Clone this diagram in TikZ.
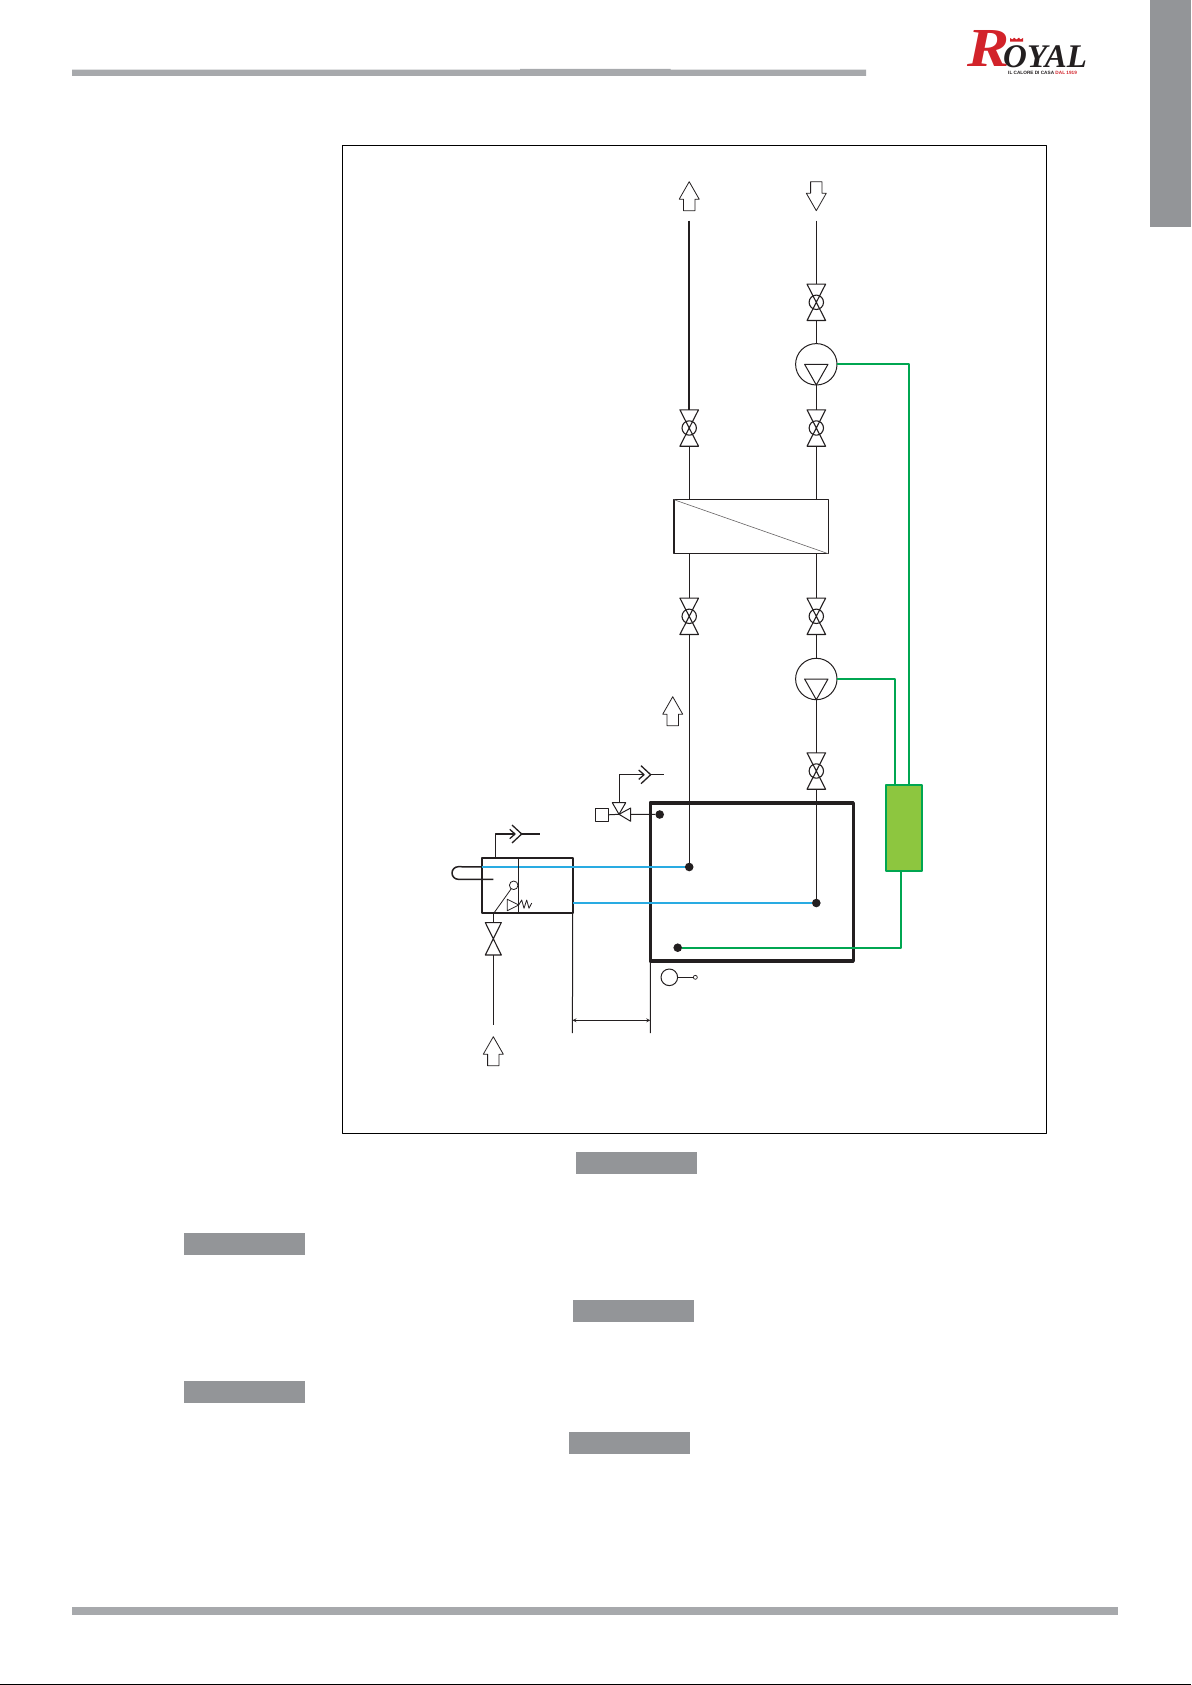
\documentclass[tikz,border=0pt]{standalone}
\usepackage{fontspec}
\newfontfamily\logofont{Liberation Serif}
\newfontfamily\tagfont{Liberation Sans}
\definecolor{barcol}{HTML}{A7A9AC}
\definecolor{tabcol}{HTML}{939598}
\definecolor{inkcol}{HTML}{231F20}
\definecolor{bluecol}{HTML}{29ABE2}
\definecolor{greencol}{HTML}{00A651}
\definecolor{limecol}{HTML}{8DC63F}
\definecolor{royalred}{HTML}{D2232A}
\tikzset{
	pipe/.style={draw=inkcol, line width=1pt},
	bluepipe/.style={draw=bluecol, line width=1.7pt},
	greenpipe/.style={draw=greencol, line width=1.7pt},
	valvebox/.style={inner sep=0, outer sep=0, minimum width=18.6pt, minimum height=36.4pt},
	pumpbox/.style={circle, draw=inkcol, line width=1pt, inner sep=0, outer sep=0, minimum size=41.4pt},
	greybox/.style={fill=tabcol, inner sep=0, outer sep=0, minimum width=121pt, minimum height=22pt},
	dot/.style={circle, fill=inkcol, inner sep=0, outer sep=0, minimum size=8.6pt},
	bigup/.pic={\draw[draw=inkcol, line width=.8pt, fill=white] (0,0)--(10,17.5)--(5.7,17.5)--(5.7,29)--(-5.7,29)--(-5.7,17.5)--(-10,17.5)--cycle;},
	outlet/.pic={\draw[draw=inkcol, line width=1.3pt] (-9.7,-9)--(0,0)--(-9.7,9) (-12,-4.7)--(-6.7,0)--(-12,4.7);}
}
\begin{document}
\begin{tikzpicture}[x=1pt, y=-1pt, line join=round, >=stealth]
	\useasboundingbox (0,0) rectangle (1191,1685);
	\path
	(689.2,220.7) coordinate (LT)
	(816.3,220.7) coordinate (RT)
	(909,784.7) coordinate (ctrlA)
	(895,784.7) coordinate (ctrlB)
	(901,871) coordinate (ctrlC)
	(650.7,774.7) coordinate (ventA)
	(521.7,834) coordinate (ventB)
	(619.3,774.7) coordinate (ventAc)
	(495.7,834) coordinate (ventBc)
	(663.7,774.7) coordinate (ventAe)
	(540,834) coordinate (ventBe)
	(619,814.3) coordinate (SV)
	(493.3,1025) coordinate (inlet)
	(572.4,1033) coordinate (dimA)
	(650.3,1033) coordinate (dimB)
	;
	% page furniture
	\fill[barcol] (72,69.7) rectangle (866,75.8) (520,69) rectangle (670.6,75.8);
	\fill[barcol] (72,1607) rectangle (1118,1615);
	\fill[tabcol] (1150,0) rectangle (1191,226.7);
	\fill[black] (0,1684) rectangle (1191,1685);
	\draw[draw=black, line width=.9pt] (342,145.3) rectangle (1046.7,1133);
	\foreach \n/\x/\y in {boxA/636.5/1163, boxB/244.5/1244, boxC/633.5/1311, boxD/244.5/1392, boxE/629.5/1443}
		\node[greybox] (\n) at (\x,\y) {};
	% logo
	\node[anchor=base west, inner sep=0, text=royalred, xscale=1.15, font=\logofont\bfseries\itshape\fontsize{55}{55}\selectfont] (logoR) at (967,66.7) {R};
	\node[anchor=base west, inner sep=0, text=inkcol, font=\logofont\bfseries\itshape\fontsize{33}{33}\selectfont] (logoT) at (1003,67.5) {OYAL};
	\node[anchor=base west, inner sep=0, text=inkcol, font=\tagfont\bfseries\fontsize{4.7}{4.7}\selectfont] (logoS) at (1008,75) {IL CALORE DI CASA \textcolor{royalred}{DAL 1919}};
	\fill[royalred] (1010,41.7)--(1010,38)--(1012.5,39.5)--(1014,37.7)--(1016.5,39.5)--(1019,37.7)--(1020.5,39.5)--(1023,38)--(1023,41.7)--cycle;
	% tanks
	\node[draw=inkcol, line width=3.6pt, inner sep=0, outer sep=0, minimum width=203pt, minimum height=158pt] (tank) at (751.8,881.7) {};
	\node[draw=inkcol, line width=1.6pt, inner sep=0, outer sep=0, minimum width=91pt, minimum height=55pt] (expbox) at (527.2,885.4) {};
	\node[draw=inkcol, line width=1.2pt, inner sep=0, outer sep=0, minimum width=154.3pt, minimum height=54pt] (hx) at (751.1,526.7) {};
	\draw[draw=inkcol!70, line width=.6pt] (hx.north west)--(hx.south east);
	\node[draw=greencol, fill=limecol, line width=1.7pt, inner sep=0, outer sep=0, minimum width=35.7pt, minimum height=86.3pt] (ctrl) at (903.8,827.8) {};
	% valves
	\foreach \n/\x/\y in {vA/689.2/428, vB/816.3/302.3, vC/816.3/428, vD/689.2/616.3, vE/816.3/616.3, vF/816.3/771}{
		\node[valvebox] (\n) at (\x,\y) {};
		\draw[pipe, line width=1.1pt] (\n.north west)--(\n.south east)--(\n.south west)--(\n.north east)--cycle;
		\draw[pipe, line width=1.1pt] (\n.center) circle (7.2);
	}
	\node[valvebox, minimum width=16pt, minimum height=32.4pt] (vG) at (493.3,938.8) {};
	\draw[pipe, line width=1.1pt] (vG.north west)--(vG.south east)--(vG.south west)--(vG.north east)--cycle;
	% pumps
	\foreach \n/\x/\y in {pumpA/816.3/364.3, pumpB/816.3/679}{
		\node[pumpbox] (\n) at (\x,\y) {};
		\draw[pipe] ([xshift=-11.7pt]\n.center)--([xshift=11.7pt]\n.center)--(\n.south)--cycle;
	}
	% pipes
	\draw[pipe, line width=1.5pt] (LT)--(vA.north);
	\draw[pipe] (RT)--(vB.north) (vB.south)--(pumpA.north) (pumpA.south)--(vC.north);
	\draw[pipe] (vA.south)--(vA.south|-hx.north) (vC.south)--(vC.south|-hx.north);
	\draw[pipe] (vD.north)--(vD.north|-hx.south) (vE.north)--(vE.north|-hx.south);
	\draw[pipe] (vE.south)--(pumpB.north) (pumpB.south)--(vF.north);
	\node[dot] (dotA) at (689.2,867) {};
	\node[dot] (dotB) at (816.3,903) {};
	\node[dot] (dotC) at (677.7,947.7) {};
	\node[dot] (dotD) at (659.7,814.5) {};
	\draw[pipe, line width=1.2pt] (vD.south)--(dotA) (vF.south)--(dotB);
	\draw[bluepipe] (expbox.east|-dotB)--(dotB);
	\draw[greenpipe] (pumpA.east)-|(ctrlA);
	\draw[greenpipe] (pumpB.east)-|(ctrlB);
	\draw[greenpipe] (dotC)-|(ctrlC);
	% safety valve and outlets
	\node[draw=inkcol, line width=1pt, inner sep=0, outer sep=0, minimum size=13pt] (sqv) at (602,814.8) {};
	\draw[pipe] (sqv.east)--(SV)--(dotD);
	\draw[pipe, fill=white] (SV)--(612.3,802.7)--(625.7,802.7)--cycle;
	\draw[pipe, fill=white] (SV)--(630.7,808)--(630.7,821.3)--cycle;
	\draw[pipe, line width=1.3pt] (619.3,802.7)--(ventAc)--(644,774.7);
	\draw[pipe, line width=1.3pt] (ventA)--(ventAe);
	\path (ventA) pic {outlet};
	\draw[pipe, line width=1.5pt] (ventBc|-expbox.north)--(ventBc)--(515,834);
	\draw[pipe, line width=1.5pt] (ventB)--(ventBe);
	\path (ventB) pic {outlet};
	% expansion vessel details
	\draw[pipe, line width=1.5pt] (expbox.west|-dotA)--(458.3,866.7) arc (270:90:6.3)--(493.3,879.3);
	\draw[bluepipe] (expbox.west|-dotA)--(dotA);
	\draw[pipe] (518.7,857.9)--(518.7,912.9);
	\node[draw=inkcol, circle, line width=.8pt, inner sep=0, outer sep=0, minimum size=8.6pt] (floatb) at (513.7,885.3) {};
	\draw[pipe, line width=.8pt] (494,912.9)--(floatb);
	\draw[pipe, line width=.8pt] (507.3,899.3)--(518.7,905)--(507.3,910.7)--cycle;
	\draw[pipe, line width=.8pt] (518.7,905)--(521.7,900)--(524,908.3)--(526.7,900)--(529,908.3)--(531.7,903);
	\draw[pipe] (vG.north)--(vG.north|-expbox.south) (vG.south)--(inlet);
	% dimension and sensor
	\draw[pipe] (expbox.south east)--(dimA) (tank.south west)--(dimB);
	\draw[pipe, <->, line width=.8pt] (572.4,1020.3)--(650.3,1020.3);
	\node[draw=inkcol, circle, line width=1pt, inner sep=0, outer sep=0, minimum size=16.6pt] (sensor) at (669.3,977.3) {};
	\node[draw=inkcol, circle, line width=.7pt, inner sep=0, outer sep=0, minimum size=4pt] (sensorb) at (695.3,977.3) {};
	\draw[pipe, line width=.8pt] (sensor)--(sensorb);
	% flow arrows
	\path (689.2,181.7) pic {bigup};
	\path (816.3,210.7) pic[yscale=-1] {bigup};
	\path (672.7,696.7) pic {bigup};
	\path (493.3,1036.7) pic {bigup};
\end{tikzpicture}
\end{document}
